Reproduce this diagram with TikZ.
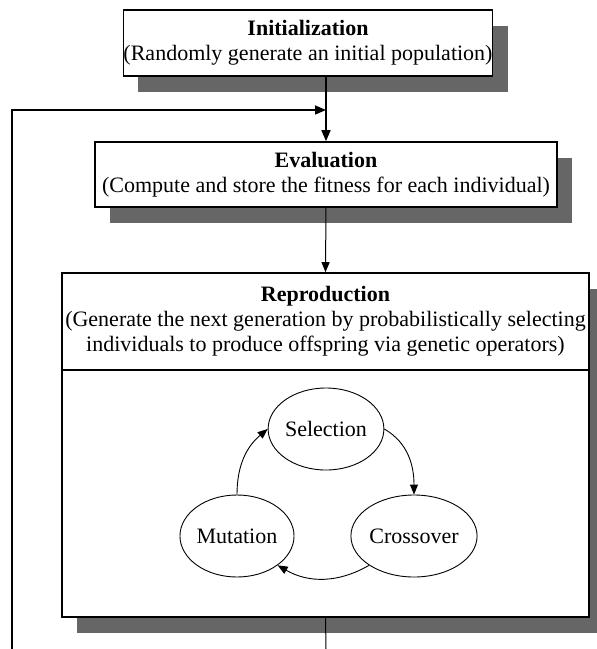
\documentclass[tikz,border=0pt]{standalone}
\usepackage{fontspec}
\setmainfont{Liberation Serif}
\usetikzlibrary{arrows.meta,shapes.geometric,shadows}
\definecolor{shadowgray}{HTML}{666666}
\begin{document}
\begin{tikzpicture}[x=1pt,y=-1pt,
  txt/.style={font=\fontsize{22}{25}\selectfont},
  box/.style={txt, draw, line width=1.6pt, fill=white, align=center, inner sep=0pt,
    drop shadow={shadow xshift=15pt, shadow yshift=-16pt, fill=shadowgray, opacity=1}},
  ell/.style={txt, draw, ellipse, line width=0.9pt, minimum width=111pt, minimum height=82pt, inner sep=0pt},
  boldline/.style={line width=1.6pt},
  thinline/.style={line width=1pt},
  bigtip/.style={-{Triangle[length=11pt,width=9pt]}},
  smalltip/.style={-{Triangle[length=10pt,width=8pt]}},
  cyc/.style={line width=0.9pt, -{Triangle[length=10pt,width=8pt]}}
]
\useasboundingbox (0,0) rectangle (597,649);

\node[box, minimum width=360pt, minimum height=66pt] (init) at (308,43)
  {\textbf{Initialization}\\(Randomly generate an initial population)};
\node[box, minimum width=462pt, minimum height=65pt] (eval) at (326,174.5)
  {\textbf{Evaluation}\\(Compute and store the fitness for each individual)};
\node[box, minimum width=527pt, minimum height=344pt] (repro) at (325.5,445) {};
\node[txt, align=center, inner sep=0pt] (reprotitle) at (325.5,321.5)
  {\textbf{Reproduction}\\(Generate the next generation by probabilistically selecting\\individuals to produce offspring via genetic operators)};
\coordinate (divl) at (62,370);
\coordinate (divr) at (589,370);
\draw[boldline] (divl) -- (divr);

\node[ell] (sel) at (326,429) {Selection};
\node[ell] (mut) at (237,536) {Mutation};
\node[ell] (cross) at (414,536) {Crossover};

\draw[cyc] (sel.east) to[out=-30,in=90] (cross.north);
\draw[cyc] (cross.south west) to[out=-150,in=-30] (mut.south east);
\draw[cyc] (mut.north) to[out=90,in=-140] (sel.west);

\coordinate (junc) at (326,110);
\coordinate (fbstart) at (12,649);
\coordinate (outend) at (326,649);
\draw[boldline, bigtip] (init.south -| eval.north) -- (eval.north);
\draw[boldline, bigtip] (fbstart) |- (junc);
\draw[thinline, smalltip] (eval.south) -- (repro.north);
\draw[thinline] (repro.south) -- (outend);
\end{tikzpicture}
\end{document}
